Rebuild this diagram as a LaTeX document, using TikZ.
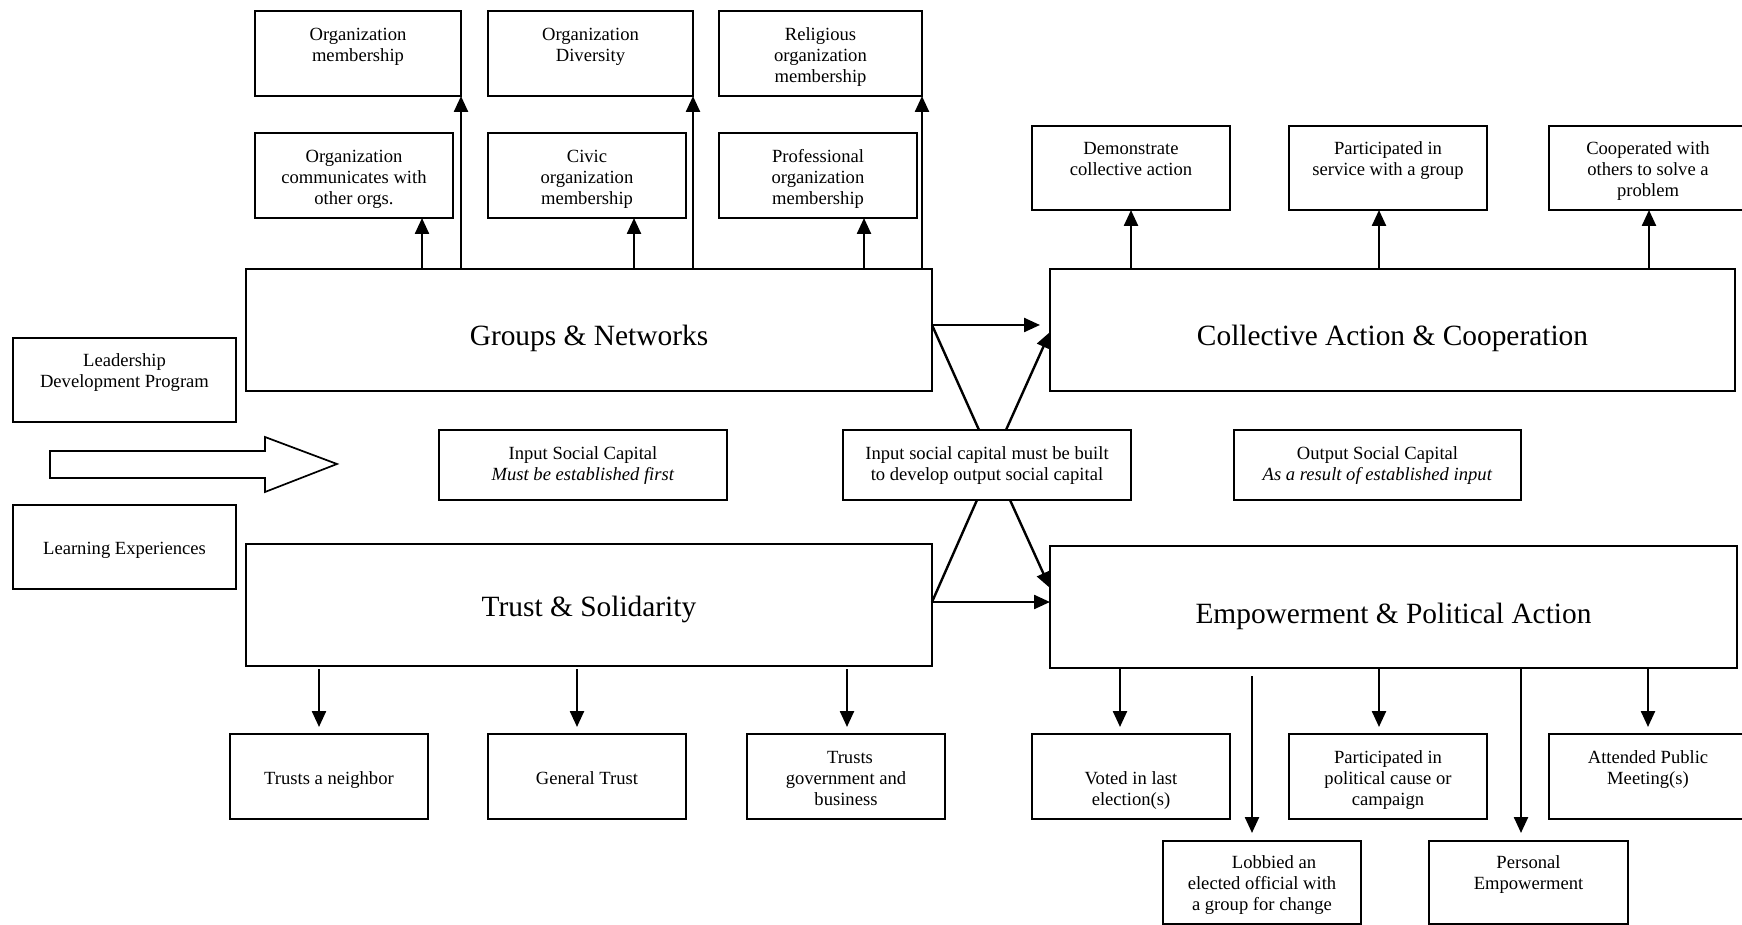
\documentclass[tikz,border=0pt]{standalone}
\usepackage{fontspec}
\setmainfont{Liberation Serif}
\usetikzlibrary{arrows.meta,calc}

% one drawing unit = 0.5pt
\newdimen\pxu \pxu=0.5pt
\newcommand\smallf{\fontsize{9.3pt}{10.5pt}\selectfont}
\newcommand\bigf{\fontsize{14.7pt}{17pt}\selectfont}
% framed box: font, name, x1, y1, x2, y2, top padding, text
\newcommand\bx[8]{%
  \node[box] (#2) at ({(#3+#5)/2},{(#4+#6)/2})
    {\parbox[c][\dimexpr#6\pxu-#4\pxu\relax][t]{\dimexpr#5\pxu-#3\pxu\relax}%
      {#1\centering\vspace*{#7}\strut#8\par}};}

\begin{document}
\begin{tikzpicture}[x=0.5pt, y=-0.5pt,
  box/.style={draw, line width=0.85pt, inner sep=0pt, outer sep=0pt},
  arr/.style={line width=1.2pt, -{Triangle[length=8pt,width=7pt]}},
  ln/.style={line width=1.2pt}]
\useasboundingbox (0,0) rectangle (1742,925);

% Groups & Networks and its indicators
\bx{\smallf}{om}{255}{11}{461}{96}{7.2pt}{Organization\\membership}
\bx{\smallf}{od}{488}{11}{693}{96}{7.2pt}{Organization\\Diversity}
\bx{\smallf}{rom}{719}{11}{922}{96}{7.2pt}{Religious\\organization\\membership}
\bx{\smallf}{occ}{255}{133}{453}{218}{7.2pt}{Organization\\communicates with\\other orgs.}
\bx{\smallf}{civ}{488}{133}{686}{218}{7.2pt}{Civic\\organization\\membership}
\bx{\smallf}{pom}{719}{133}{917}{218}{7.2pt}{Professional\\organization\\membership}
\bx{\bigf}{gn}{246}{269}{932}{391}{26.6pt}{Groups \& Networks}

% Trust & Solidarity and its indicators
\bx{\bigf}{ts}{246}{544}{932}{666}{24.1pt}{Trust \& Solidarity}
\bx{\smallf}{tn}{230}{734}{428}{819}{17.7pt}{Trusts a neighbor}
\bx{\smallf}{gt}{488}{734}{686}{819}{17.7pt}{General Trust}
\bx{\smallf}{tg}{747}{734}{945}{819}{7.2pt}{\hspace*{4pt}Trusts\\government and\\business}

% program inputs
\bx{\smallf}{lead}{13}{338}{236}{422}{7pt}{Leadership\\Development Program}
\bx{\smallf}{learn}{13}{505}{236}{589}{17.4pt}{Learning Experiences}
\draw[line width=0.85pt, line join=miter]
  (50,451) -- (265,451) -- (265,437) -- (337,464) -- (265,492) -- (265,478) -- (50,478) -- cycle;

% middle captions
\bx{\smallf}{isc}{439}{430}{727}{500}{7.2pt}{Input Social Capital\\\textit{Must be established first}}
\bx{\smallf}{mid}{843}{430}{1131}{500}{7.2pt}{Input social capital must be built\\to develop output social capital}
\bx{\smallf}{osc}{1234}{430}{1521}{500}{7.2pt}{Output Social Capital\\\textit{As a result of established input}}

% Collective Action & Cooperation
\bx{\bigf}{ca}{1050}{269}{1735}{391}{26.6pt}{Collective Action \& Cooperation}
\bx{\smallf}{dem}{1032}{126}{1230}{210}{6.9pt}{Demonstrate\\collective action}
\bx{\smallf}{psg}{1289}{126}{1487}{210}{6.9pt}{Participated in\\service with a group}
\bx{\smallf}{coop}{1549}{126}{1747}{210}{6.9pt}{Cooperated with\\others to solve a\\problem}

% Empowerment & Political Action
\bx{\bigf}{ep}{1050}{546}{1737}{668}{26.6pt}{Empowerment \& Political Action}
\bx{\smallf}{vot}{1032}{734}{1230}{819}{17.7pt}{Voted in last\\election(s)}
\bx{\smallf}{ppc}{1289}{734}{1487}{819}{7.2pt}{Participated in\\political cause or\\campaign}
\bx{\smallf}{apm}{1549}{734}{1747}{819}{7.2pt}{Attended Public\\Meeting(s)}
\bx{\smallf}{lob}{1163}{841}{1361}{924}{6.5pt}{\hspace*{12pt}Lobbied an\\elected official with\\a group for change}
\bx{\smallf}{pe}{1429}{841}{1628}{924}{6.5pt}{Personal\\Empowerment}

% connector columns
\coordinate (cocc) at (422,0);
\coordinate (cciv) at (634,0);
\coordinate (cpom) at (864,0);
\coordinate (cdem) at (1131,0);
\coordinate (cpsg) at (1379,0);
\coordinate (ccoop) at (1649,0);
\coordinate (ctn) at (319,0);
\coordinate (cgt) at (577,0);
\coordinate (ctg) at (847,0);
\coordinate (cvot) at (1120,0);
\coordinate (clob) at (1252,0);
\coordinate (cppc) at (1379,0);
\coordinate (cpe) at (1521,0);
\coordinate (capm) at (1648,0);

% arrows up from Groups & Networks
\draw[arr] (cocc |- gn.north) -- (cocc |- occ.south);
\draw[arr] (gn.north -| om.south east) -- (om.south east);
\draw[arr] (cciv |- gn.north) -- (cciv |- civ.south);
\draw[arr] (gn.north -| od.south east) -- (od.south east);
\draw[arr] (cpom |- gn.north) -- (cpom |- pom.south);
\draw[arr] (gn.north -| rom.south east) -- (rom.south east);

% arrows up from Collective Action & Cooperation
\draw[arr] (cdem |- ca.north) -- (cdem |- dem.south);
\draw[arr] (cpsg |- ca.north) -- (cpsg |- psg.south);
\draw[arr] (ccoop |- ca.north) -- (ccoop |- coop.south);

% arrows down from Trust & Solidarity
\draw[arr] ($(ctn |- ts.south)+(0,3)$) -- ($(ctn |- tn.north)+(0,-7)$);
\draw[arr] ($(cgt |- ts.south)+(0,3)$) -- ($(cgt |- gt.north)+(0,-7)$);
\draw[arr] ($(ctg |- ts.south)+(0,3)$) -- ($(ctg |- tg.north)+(0,-7)$);

% arrows down from Empowerment & Political Action
\draw[arr] (cvot |- ep.south) -- ($(cvot |- vot.north)+(0,-7)$);
\draw[arr] ($(clob |- ep.south)+(0,8)$) -- ($(clob |- lob.north)+(0,-8)$);
\draw[arr] (cppc |- ep.south) -- ($(cppc |- ppc.north)+(0,-7)$);
\draw[arr] (cpe |- ep.south) -- ($(cpe |- pe.north)+(0,-8)$);
\draw[arr] (capm |- ep.south) -- ($(capm |- apm.north)+(0,-7)$);

% input to output links
\draw[arr] ($(gn.east)+(0,-5)$) -- ($(ca.west)+(-10,-5)$);
\draw[ln] ($(gn.east)+(0,-5)$) -- ($(mid.north)+(-8,0)$);
\draw[arr] ($(mid.north)+(19,0)$) -- ($(ca.west)+(0,2)$);
\draw[arr] ($(ts.east)+(0,-3)$) -- ($(ep.west)+(0,-5)$);
\draw[ln] ($(ts.east)+(0,-3)$) -- ($(mid.south)+(-10,0)$);
\draw[arr] ($(mid.south)+(23,0)$) -- ($(ep.west)+(0,-19)$);
\end{tikzpicture}
\end{document}
